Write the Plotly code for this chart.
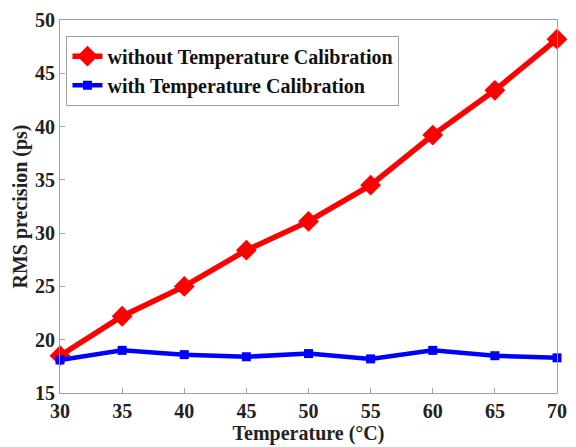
import plotly.graph_objects as go

temps = [30, 35, 40, 45, 50, 55, 60, 65, 70]
without_cal = [18.5, 22.2, 25.0, 28.4, 31.1, 34.5, 39.2, 43.4, 48.2]
with_cal = [18.1, 19.0, 18.6, 18.4, 18.7, 18.2, 19.0, 18.5, 18.3]
x_ticks = [30, 35, 40, 45, 50, 55, 60, 65, 70]
y_ticks = [15, 20, 25, 30, 35, 40, 45, 50]

font_family = "Liberation Serif"

fig = go.Figure()
fig.add_trace(go.Scatter(
    x=temps, y=without_cal, mode="lines+markers",
    name="without Temperature Calibration",
    line=dict(color="#ff0000", width=5.5),
    marker=dict(symbol="diamond", size=16, color="#ff0000"),
    cliponaxis=False,
))
fig.add_trace(go.Scatter(
    x=temps, y=with_cal, mode="lines+markers",
    name="with Temperature Calibration",
    line=dict(color="#0000ff", width=4.5),
    marker=dict(symbol="square", size=9, color="#0000ff"),
    cliponaxis=False,
))

axis_common = dict(
    showline=True, linecolor="#a0a0a0", linewidth=1, mirror=True,
    ticks="inside", ticklen=5, tickcolor="#a0a0a0",
    showgrid=False, zeroline=False,
    tickfont=dict(family=font_family, size=20, color="#222222", weight="bold"),
)

fig.update_layout(
    width=576, height=447,
    margin=dict(l=60, r=9, t=17, b=54),
    paper_bgcolor="white", plot_bgcolor="white",
    font=dict(family=font_family, color="#222222"),
    showlegend=True,
    legend=dict(
        x=0.013, y=0.958, xanchor="left", yanchor="top",
        bordercolor="#a0a0a0", borderwidth=1, bgcolor="white",
        font=dict(family=font_family, size=20, color="#111111", weight="bold"),
        tracegroupgap=0, itemwidth=30,
    ),
    xaxis=dict(
        range=[30, 70], tickvals=x_ticks,
        title=dict(text="Temperature (°C)", standoff=0,
                   font=dict(family=font_family, size=20, color="#222222", weight="bold")),
        **axis_common,
    ),
    yaxis=dict(
        range=[15, 50], tickvals=y_ticks,
        title=dict(text="RMS precision (ps)", standoff=2,
                   font=dict(family=font_family, size=20, color="#222222", weight="bold")),
        **axis_common,
    ),
)

fig.write_html("out.html")
